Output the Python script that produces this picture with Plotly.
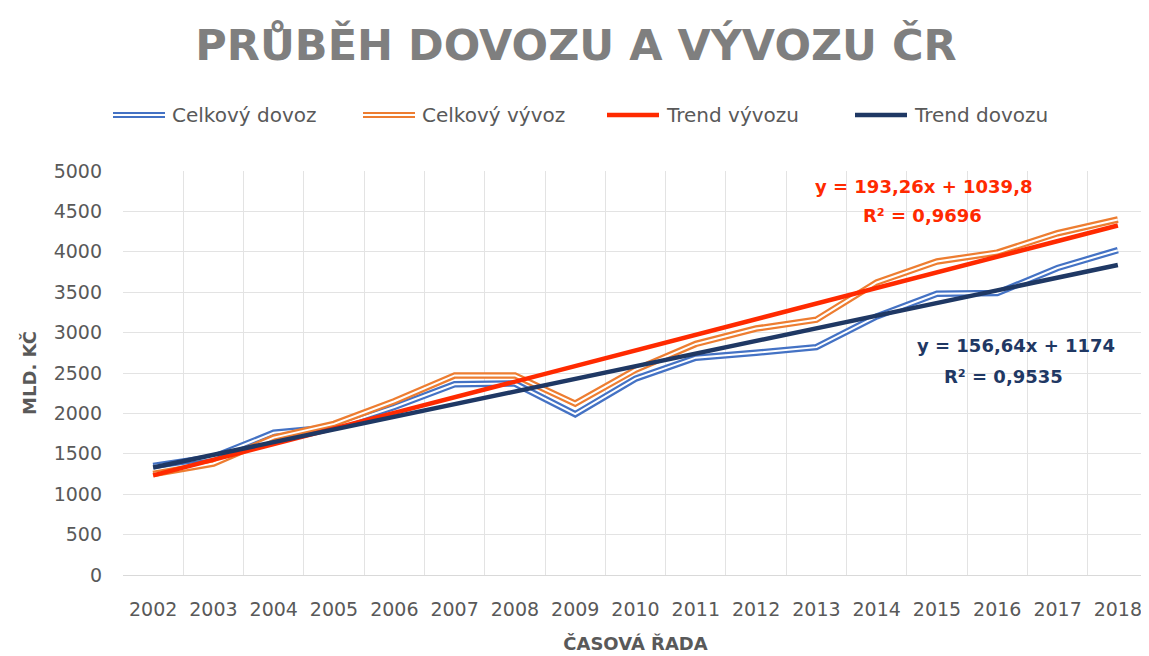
import plotly.graph_objects as go

years = [str(y) for y in range(2002, 2019)]
dovoz = [1350, 1460, 1760, 1830, 2080, 2360, 2370, 1990, 2430, 2690, 2750, 2820, 3200, 3480, 3490, 3800, 4020]
vyvoz = [1250, 1380, 1700, 1870, 2150, 2470, 2470, 2120, 2540, 2860, 3050, 3160, 3620, 3880, 3990, 4230, 4400]
trend_vyvoz_coef = (193.26, 1039.8)
trend_dovoz_coef = (156.64, 1174.0)
y_ticks = [0, 500, 1000, 1500, 2000, 2500, 3000, 3500, 4000, 4500, 5000]

BLUE = "#4472C4"
ORANGE = "#ED7D31"
RED = "#FF2A00"
NAVY = "#1F3864"
GRAY = "#595959"
FONT = "DejaVu Sans"

W, H = 1149, 656
OFF = 8  # page body margin
L, R, T, B = 123 - OFF, 9, 171 - OFF, H - (575 - OFF)
PW, PH = W - L - R, H - T - B


def px(sx):
    return (sx - OFF - L) / PW


def py(sy):
    return (H - B - (sy - OFF)) / PH


idx = list(range(1, len(years) + 1))
trend_v = [trend_vyvoz_coef[0] * i + trend_vyvoz_coef[1] for i in idx]
trend_d = [trend_dovoz_coef[0] * i + trend_dovoz_coef[1] for i in idx]

fig = go.Figure()


def double_line(vals, color, name):
    fig.add_trace(go.Scatter(x=years, y=vals, mode="lines", name=name,
                             line=dict(color=color, width=6.5), showlegend=False,
                             hoverinfo="skip"))
    fig.add_trace(go.Scatter(x=years, y=vals, mode="lines", name=name,
                             line=dict(color="white", width=2), showlegend=False))


double_line(dovoz, BLUE, "Celkový dovoz")
double_line(vyvoz, ORANGE, "Celkový vývoz")
fig.add_trace(go.Scatter(x=years, y=trend_v, mode="lines", name="Trend vývozu",
                         line=dict(color=RED, width=4.5), showlegend=False))
fig.add_trace(go.Scatter(x=years, y=trend_d, mode="lines", name="Trend dovozu",
                         line=dict(color=NAVY, width=4.5), showlegend=False))

# Manual legend (double lines for data series)
legend_items = [
    ("Celkový dovoz", BLUE, True, 113),
    ("Celkový vývoz", ORANGE, True, 363),
    ("Trend vývozu", RED, False, 607),
    ("Trend dovozu", NAVY, False, 855),
]
shapes = []
annotations = []
ly = 115
for name, color, dbl, x0 in legend_items:
    x1 = x0 + 52
    shapes.append(dict(type="line", xref="paper", yref="paper",
                       x0=px(x0), x1=px(x1), y0=py(ly), y1=py(ly),
                       line=dict(color=color, width=6 if dbl else 4.5)))
    if dbl:
        shapes.append(dict(type="line", xref="paper", yref="paper",
                           x0=px(x0), x1=px(x1), y0=py(ly), y1=py(ly),
                           line=dict(color="white", width=2)))
    annotations.append(dict(xref="paper", yref="paper", x=px(x1 + 5), y=py(ly),
                            text=name, showarrow=False, xanchor="left", yanchor="middle",
                            font=dict(family=FONT, size=20, color=GRAY)))

# Trend equations
eq_font = 18
annotations += [
    dict(xref="paper", yref="paper", x=px(924), y=py(186), text="<b>y = 193,26x + 1039,8</b>",
         showarrow=False, xanchor="center", yanchor="middle", font=dict(family=FONT, size=eq_font, color=RED)),
    dict(xref="paper", yref="paper", x=px(922), y=py(215), text="<b>R² = 0,9696</b>",
         showarrow=False, xanchor="center", yanchor="middle", font=dict(family=FONT, size=eq_font, color=RED)),
    dict(xref="paper", yref="paper", x=px(1016), y=py(345), text="<b>y = 156,64x + 1174</b>",
         showarrow=False, xanchor="center", yanchor="middle", font=dict(family=FONT, size=eq_font, color=NAVY)),
    dict(xref="paper", yref="paper", x=px(1003), y=py(376), text="<b>R² = 0,9535</b>",
         showarrow=False, xanchor="center", yanchor="middle", font=dict(family=FONT, size=eq_font, color=NAVY)),
]

fig.update_layout(
    width=W, height=H,
    paper_bgcolor="white", plot_bgcolor="white",
    margin=dict(l=L, r=R, t=T, b=B),
    title=dict(text="<b>PRŮBĚH DOVOZU A VÝVOZU ČR</b>", x=(576 - OFF) / W, xanchor="center",
               y=1 - (45 - OFF) / H, yanchor="middle",
               font=dict(family=FONT, size=43, color="#7F7F7F")),
    shapes=shapes, annotations=annotations,
    showlegend=False,
    xaxis=dict(type="category", range=[-0.5, len(years) - 0.5], tickson="boundaries",
               showgrid=True, gridcolor="#E3E3E3",
               gridwidth=1, ticks="", showline=True, linecolor="#D9D9D9",
               tickfont=dict(family=FONT, size=19, color=GRAY), ticklabelstandoff=17,
               title=dict(text="<b>ČASOVÁ ŘADA</b>", standoff=18,
                          font=dict(family=FONT, size=18, color=GRAY)),
               automargin=False, fixedrange=True),
    yaxis=dict(range=[0, 5000], tickvals=y_ticks, showgrid=True, gridcolor="#E3E3E3",
               gridwidth=1, zeroline=False, showline=False, ticks="",
               tickfont=dict(family=FONT, size=19, color=GRAY), ticklabelstandoff=20,
               title=dict(text="<b>MLD. KČ</b>", standoff=12,
                          font=dict(family=FONT, size=18, color=GRAY)),
               automargin=False, fixedrange=True),
)

fig.write_html("out.html")
